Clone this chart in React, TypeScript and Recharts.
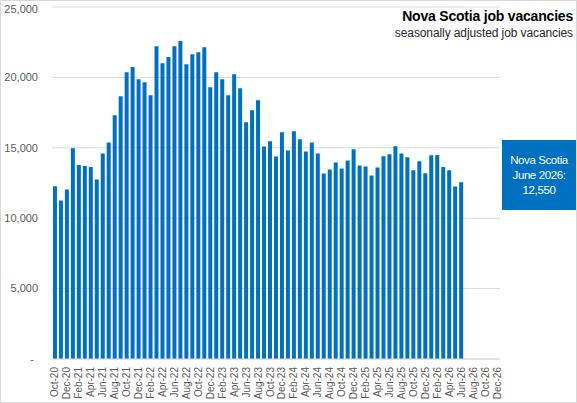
import React from 'react';
import { BarChart, Bar, XAxis, YAxis, CartesianGrid } from 'recharts';

// Monthly categories, Oct-20 through Dec-26 (axis runs past the last data point)
const months = [
  'Oct-20', 'Nov-20', 'Dec-20',
  'Jan-21', 'Feb-21', 'Mar-21', 'Apr-21', 'May-21', 'Jun-21', 'Jul-21', 'Aug-21', 'Sep-21', 'Oct-21', 'Nov-21', 'Dec-21',
  'Jan-22', 'Feb-22', 'Mar-22', 'Apr-22', 'May-22', 'Jun-22', 'Jul-22', 'Aug-22', 'Sep-22', 'Oct-22', 'Nov-22', 'Dec-22',
  'Jan-23', 'Feb-23', 'Mar-23', 'Apr-23', 'May-23', 'Jun-23', 'Jul-23', 'Aug-23', 'Sep-23', 'Oct-23', 'Nov-23', 'Dec-23',
  'Jan-24', 'Feb-24', 'Mar-24', 'Apr-24', 'May-24', 'Jun-24', 'Jul-24', 'Aug-24', 'Sep-24', 'Oct-24', 'Nov-24', 'Dec-24',
  'Jan-25', 'Feb-25', 'Mar-25', 'Apr-25', 'May-25', 'Jun-25', 'Jul-25', 'Aug-25', 'Sep-25', 'Oct-25', 'Nov-25', 'Dec-25',
  'Jan-26', 'Feb-26', 'Mar-26', 'Apr-26', 'May-26', 'Jun-26', 'Jul-26', 'Aug-26', 'Sep-26', 'Oct-26', 'Nov-26', 'Dec-26',
];

// Seasonally adjusted job vacancies, Oct-20 .. Jun-26
const vacancies = [
  12270, 11250, 12040,
  14960, 13770, 13700, 13630, 12750, 14600, 15380, 17310, 18660, 20370, 20730, 19870,
  19660, 18730, 22220, 21010, 21440, 22220, 22580, 20940, 21650, 21790, 22150, 19300,
  20370, 19870, 18730, 20230, 19230, 16810, 17660, 18380, 15100, 15460, 14390, 16100,
  14810, 16170, 15600, 14740, 15380, 14600, 13180, 13460, 13960, 13530, 14100, 14890,
  13750, 13680, 13030, 13600, 14400, 14540, 15110, 14600, 14330, 13400, 14040, 13190,
  14470, 14480, 13630, 13410, 12250, 12550,
];

const yTicks = [0, 5000, 10000, 15000, 20000, 25000];

const data = months.map((m, i) => ({
  month: m,
  value: i < vacancies.length ? vacancies[i] : null,
}));

const GREY = '#595959';
const BLUE = '#0070C0';
const SANS = "'Liberation Sans', Arial, sans-serif";

const XTick = ({ x, y, payload }: any) => (
  <text
    x={x}
    y={y}
    transform={`rotate(-90, ${x}, ${y})`}
    textAnchor="end"
    dy="0.35em"
    fontSize={10}
    fontFamily={SANS}
    fill={GREY}
  >
    {payload.value}
  </text>
);

const YTick = ({ x, y, payload }: any) => (
  <text
    x={payload.value === 0 ? x - 4 : x}
    y={y}
    dy="0.35em"
    textAnchor="end"
    fontSize={11}
    fontFamily={SANS}
    fill={GREY}
  >
    {payload.value === 0 ? '-' : payload.value.toLocaleString('en-US')}
  </text>
);

export default function App() {
  return (
    <div
      style={{
        position: 'absolute',
        left: 0,
        top: 0,
        width: 577,
        height: 403,
        boxSizing: 'border-box',
        border: '1px solid #d9d9d9',
        background: '#fff',
      }}
    >
      <div style={{ position: 'absolute', left: -1, top: -1 }}>
        <BarChart
          width={577}
          height={403}
          data={data}
          margin={{ top: 7, right: 77, left: 0, bottom: 0 }}
          barCategoryGap="16%"
        >
          <CartesianGrid vertical={false} stroke="#d9d9d9" />
          <XAxis
            dataKey="month"
            interval={1}
            tickLine={false}
            axisLine={{ stroke: '#d9d9d9' }}
            height={44}
            tick={<XTick />}
            tickMargin={2}
          />
          <YAxis
            domain={[0, 25000]}
            ticks={yTicks}
            tickLine={false}
            axisLine={false}
            width={52}
            tickMargin={8}
            tick={<YTick />}
          />
          <Bar dataKey="value" fill={BLUE} isAnimationActive={false} />
        </BarChart>
      </div>

      {/* Title block, top right */}
      <div
        style={{
          position: 'absolute',
          right: 3,
          top: 7,
          textAlign: 'right',
          fontFamily: SANS,
          color: '#000',
          whiteSpace: 'nowrap',
        }}
      >
        <div style={{ fontSize: 14, fontWeight: 'bold', lineHeight: '16px', letterSpacing: -0.2 }}>
          Nova Scotia job vacancies
        </div>
        <div style={{ fontSize: 12, lineHeight: '18px', letterSpacing: -0.1, color: '#262626' }}>
          seasonally adjusted job vacancies
        </div>
      </div>

      {/* Latest value callout */}
      <div
        style={{
          position: 'absolute',
          left: 501,
          top: 139,
          width: 74,
          height: 70,
          background: BLUE,
          color: '#fff',
          fontFamily: SANS,
          fontSize: 11.5,
          lineHeight: '15px',
          letterSpacing: -0.4,
          display: 'flex',
          flexDirection: 'column',
          justifyContent: 'center',
          alignItems: 'center',
          textAlign: 'center',
          whiteSpace: 'nowrap',
        }}
      >
        <div>Nova Scotia</div>
        <div>June 2026:</div>
        <div>12,550</div>
      </div>
    </div>
  );
}
